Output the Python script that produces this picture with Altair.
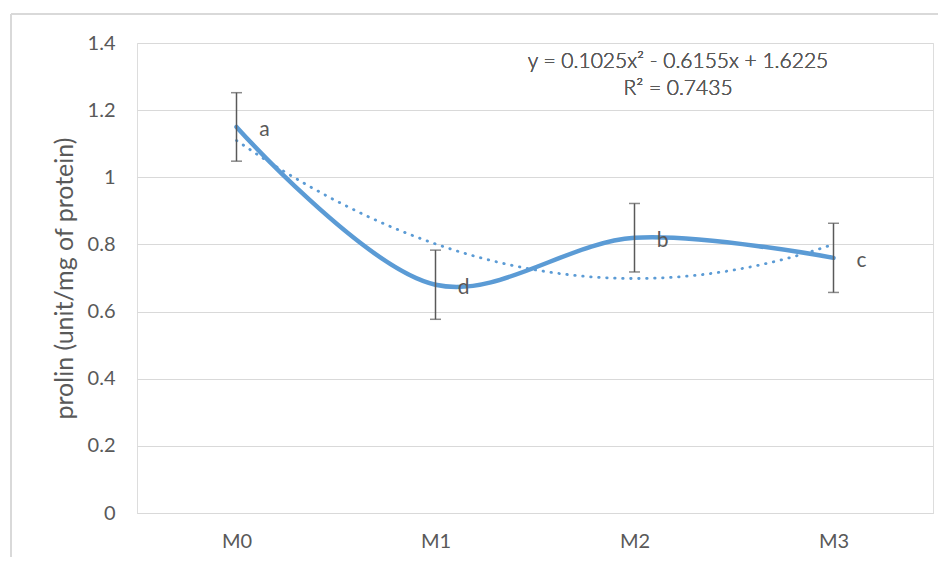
import altair as alt
import pandas as pd

categories = ["M0", "M1", "M2", "M3"]
positions = [1, 2, 3, 4]
means = [1.15, 0.68, 0.82, 0.76]
errors = [0.102, 0.103, 0.102, 0.103]
letters = ["a", "d", "b", "c"]
equation = "y = 0.1025x² - 0.6155x + 1.6225"
r_squared = "R² = 0.7435"
y_ticks = [0, 0.2, 0.4, 0.6, 0.8, 1.0, 1.2, 1.4]
y_title = "prolin (unit/mg of protein)"

df = pd.DataFrame({
    "cat": categories,
    "pos": positions,
    "mean": means,
    "lo": [m - e for m, e in zip(means, errors)],
    "hi": [m + e for m, e in zip(means, errors)],
    "letter": letters,
})

W, H = 796, 470
FONT = "Lato"
GREY = "#595959"
BLUE = "#5B9BD5"
BORDER = "#D9D9D9"

label_expr = "[" + ",".join(f"'{c}'" for c in categories) + "][datum.value - 1]"

x_enc = alt.X("pos:Q", scale=alt.Scale(domain=[0.5, 4.5], nice=False, zero=False),
              axis=alt.Axis(values=positions, labelExpr=label_expr, title=None,
                            grid=False, ticks=False, domain=True, domainColor=BORDER,
                            labelFont=FONT, labelFontSize=20, labelColor=GREY,
                            labelPadding=18))
y_scale = alt.Scale(domain=[0, 1.4], nice=False)
y_enc = alt.Y("mean:Q", scale=y_scale,
              axis=alt.Axis(values=y_ticks, format=".1~f", title=y_title, grid=True,
                            gridColor=BORDER, gridWidth=1, ticks=False, domain=False,
                            labelFont=FONT, labelFontSize=20, labelColor=GREY,
                            labelPadding=22, titleFont=FONT, titleFontSize=25,
                            titleFontWeight="normal", titleColor=GREY, titlePadding=10))

base = alt.Chart(df)

border_top = base.mark_rule(color=BORDER, strokeWidth=1.5).encode(
    x=alt.value(-126), x2=alt.value(W + 5), y=alt.value(-29))
border_left = base.mark_rule(color=BORDER, strokeWidth=1.5).encode(
    x=alt.value(-126), y=alt.value(-29), y2=alt.value(H + 44))

line = base.mark_line(color=BLUE, strokeWidth=4.5, interpolate="catmull-rom",
                      strokeCap="round").encode(x=x_enc, y=y_enc)

trend = base.transform_regression("pos", "mean", method="poly", order=2,
                                  extent=[1, 4]).mark_line(
    color=BLUE, strokeWidth=2.8, strokeDash=[0.5, 7.5], strokeCap="round"
).encode(x="pos:Q", y="mean:Q")

rules = base.mark_rule(color=GREY, strokeWidth=1.5).encode(
    x="pos:Q", y="lo:Q", y2="hi:Q")
cap_lo = base.mark_tick(color=GREY, thickness=1.5, size=11, orient="horizontal").encode(
    x="pos:Q", y="lo:Q")
cap_hi = base.mark_tick(color=GREY, thickness=1.5, size=11, orient="horizontal").encode(
    x="pos:Q", y="hi:Q")

letter_text = base.mark_text(font=FONT, fontSize=21, color=GREY, dx=28, dy=3,
                             align="center", baseline="middle").encode(
    x="pos:Q", y="mean:Q", text="letter:N")

eq1 = base.mark_text(font=FONT, fontSize=21, color=GREY, fontWeight=300,
                     align="center", baseline="middle").encode(
    x=alt.value(541), y=alt.value(19), text=alt.value(equation))
eq2 = base.mark_text(font=FONT, fontSize=21, color=GREY, fontWeight=300,
                     align="center", baseline="middle").encode(
    x=alt.value(541), y=alt.value(46), text=alt.value(r_squared))

chart = alt.layer(border_top, border_left, line, trend, rules, cap_lo, cap_hi,
                  letter_text, eq1, eq2).properties(
    width=W, height=H,
    autosize=alt.AutoSizeParams(type="none"),
    padding={"left": 129, "top": 35, "right": 6, "bottom": 45},
).configure_view(stroke=None).configure(background="white")

chart.save("out.html", embed_options={"renderer": "svg", "actions": False})
